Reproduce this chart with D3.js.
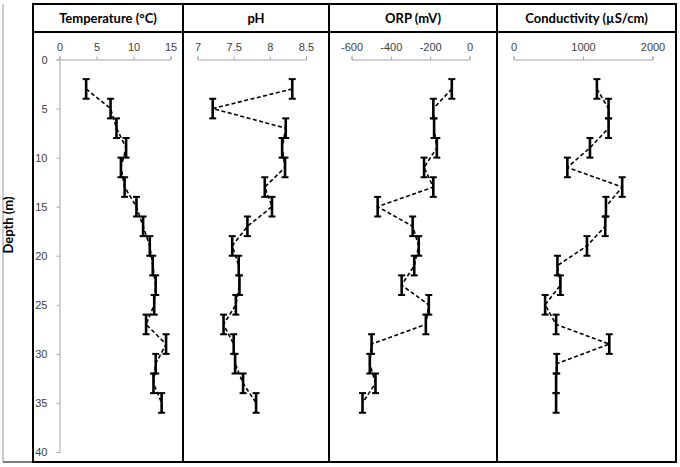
<!DOCTYPE html>
<html>
<head>
<meta charset="utf-8">
<script src="https://cdn.jsdelivr.net/npm/d3@7.9.0/dist/d3.min.js"></script>
<style>
  body { margin: 0; background: #fff; }
  svg { display: block; font-family: Lato, "Noto Sans", sans-serif; }
  .tick text { fill: #404040; font-size: 11px; }
  .axis path, .axis line { stroke: #a6a6a6; stroke-width: 1; }
  .frame { fill: none; stroke: #000; stroke-width: 2; }
  .title { font-weight: bold; font-size: 13px; fill: #000; }
</style>
</head>
<body>
<div id="chart"></div>
<script>
const depths = [3, 5, 7, 9, 11, 13, 15, 17, 19, 21, 23, 25, 27, 29, 31, 33, 35];
const temperature = [3.6, 6.9, 7.7, 9.0, 8.3, 8.8, 10.4, 11.3, 12.2, 12.6, 13.0, 12.8, 11.7, 14.4, 13.0, 12.7, 13.8];
const ph = [8.31, 7.21, 8.22, 8.17, 8.21, 7.93, 8.03, 7.69, 7.48, 7.57, 7.58, 7.53, 7.36, 7.5, 7.52, 7.63, 7.81];
const orp = [-90, -184, -180, -166, -231, -184, -467, -289, -258, -281, -345, -207, -222, -498, -507, -478, -544];
const conductivity = [1200, 1368, 1368, 1100, 775, 1564, 1330, 1320, 1057, 632, 675, 455, 613, 1378, 622, 613, 613];
const depthError = 1;

const depthTicks = [0, 5, 10, 15, 20, 25, 30, 35, 40];
const tempTicks = [0, 5, 10, 15];
const phTicks = [7, 7.5, 8, 8.5];
const orpTicks = [-600, -400, -200, 0];
const condTicks = [0, 1000, 2000];

const width = 680, height = 467;
const svg = d3.select('#chart').append('svg')
  .attr('width', width)
  .attr('height', height);

const frameTop = 4, headerBottom = 32, frameBottom = 462;
const y = d3.scaleLinear().domain([0, 40]).range([59.5, 452]);
const plain = d => String(d);

const panels = [
  { title: 'Temperature (°C)', x0: 33, x1: 183, values: temperature, ticks: tempTicks,
    x: d3.scaleLinear().domain([0, 15]).range([59.5, 170.5]) },
  { title: 'pH', x0: 183, x1: 329, values: ph, ticks: phTicks,
    x: d3.scaleLinear().domain([7, 8.5]).range([197.5, 306]) },
  { title: 'ORP (mV)', x0: 329, x1: 497, values: orp, ticks: orpTicks,
    x: d3.scaleLinear().domain([-600, 0]).range([351.5, 469.5]) },
  { title: 'Conductivity (µS/cm)', x0: 497, x1: 676, values: conductivity, ticks: condTicks,
    x: d3.scaleLinear().domain([0, 2000]).range([513.5, 652.5]) }
];

// outer thin frame on the left
svg.append('line')
  .attr('x1', 3).attr('x2', 3).attr('y1', frameTop).attr('y2', frameBottom)
  .attr('stroke', '#999').attr('stroke-width', 1);
svg.append('line')
  .attr('x1', 3).attr('x2', 33).attr('y1', frameBottom).attr('y2', frameBottom)
  .attr('stroke', '#555').attr('stroke-width', 1.5);

svg.append('text')
  .attr('class', 'title')
  .attr('transform', `translate(13, 225) rotate(-90)`)
  .attr('text-anchor', 'middle')
  .text('Depth (m)');

// depth axis (only on first panel)
svg.append('g')
  .attr('class', 'axis')
  .attr('transform', `translate(${panels[0].x(0)}, 0)`)
  .call(d3.axisLeft(y).tickValues(depthTicks).tickFormat(plain).tickSize(3).tickPadding(9));

const line = d3.line()
  .x(d => d[0])
  .y(d => d[1]);

panels.forEach(p => {
  const g = svg.append('g');

  g.append('g')
    .attr('class', 'axis')
    .attr('transform', `translate(0, ${y(0)})`)
    .call(d3.axisTop(p.x).tickValues(p.ticks).tickFormat(plain).tickSize(3).tickPadding(6));

  const pts = depths.map((d, i) => [p.x(p.values[i]), y(d)]);

  g.append('path')
    .attr('d', line(pts))
    .attr('fill', 'none')
    .attr('stroke', '#000')
    .attr('stroke-width', 1.6)
    .attr('stroke-dasharray', '4,2.5');

  const bars = g.selectAll('.err')
    .data(depths.map((d, i) => ({ d, v: p.values[i] })))
    .enter().append('g')
    .attr('class', 'err');

  bars.append('line')
    .attr('x1', e => p.x(e.v)).attr('x2', e => p.x(e.v))
    .attr('y1', e => y(e.d - depthError)).attr('y2', e => y(e.d + depthError))
    .attr('stroke', '#000').attr('stroke-width', 2.6);

  [-depthError, depthError].forEach(off => {
    bars.append('line')
      .attr('x1', e => p.x(e.v) - 3.5).attr('x2', e => p.x(e.v) + 3.5)
      .attr('y1', e => y(e.d + off)).attr('y2', e => y(e.d + off))
      .attr('stroke', '#000').attr('stroke-width', 2);
  });

  g.append('text')
    .attr('class', 'title')
    .attr('x', (p.x0 + p.x1) / 2)
    .attr('y', 23)
    .attr('text-anchor', 'middle')
    .text(p.title);

  g.append('rect')
    .attr('class', 'frame')
    .attr('x', p.x0).attr('y', frameTop)
    .attr('width', p.x1 - p.x0).attr('height', frameBottom - frameTop);
});

svg.append('line')
  .attr('x1', 33).attr('x2', 676).attr('y1', headerBottom).attr('y2', headerBottom)
  .attr('stroke', '#000').attr('stroke-width', 2);
</script>
</body>
</html>
